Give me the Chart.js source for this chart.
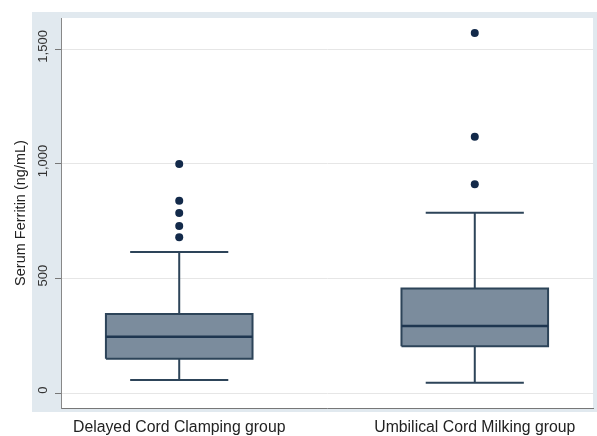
<!DOCTYPE html>
<html>
<head>
<meta charset="utf-8">
<script src="https://cdn.jsdelivr.net/npm/chart.js@4.4.1/dist/chart.umd.min.js"></script>
<style>
  html, body { margin: 0; padding: 0; background: #fff; }
  #wrap { width: 597px; height: 436px; }
</style>
</head>
<body>
<div id="wrap"><canvas id="chart" width="597" height="436"></canvas></div>
<script>
// ===== data =====
const groups = ["Delayed Cord Clamping group", "Umbilical Cord Milking group"];
const groupPos = [1, 2];
const whiskerLow = [57, 45];
const q1 = [150, 205];
const median = [246, 293];
const q3 = [345, 457];
const whiskerHigh = [616, 787];
const outliers = [
  [680, 729, 786, 840, 1000],
  [911, 1119, 1571]
];
const yTicks = [0, 500, 1000, 1500];

const BOX_HALF = 0.248;
const CAP_HALF = 0.166;
const LINE = "#2d4459";
const FILL = "#7b8c9d";
const DOT = "#132a4a";
const FONT = "'Liberation Sans', Arial, sans-serif";

// ===== datasets (lower order = drawn on top) =====
const datasets = [];
groupPos.forEach((x, i) => {
  // box fill
  datasets.push({
    type: "line", order: 10,
    data: [{x: x - BOX_HALF, y: q3[i]}, {x: x + BOX_HALF, y: q3[i]}],
    borderWidth: 0, borderColor: "rgba(0,0,0,0)", pointRadius: 0,
    backgroundColor: FILL,
    fill: {value: q1[i]}
  });
  // box outline
  datasets.push({
    type: "line", order: 5,
    data: [
      {x: x - BOX_HALF, y: q1[i]}, {x: x - BOX_HALF, y: q3[i]},
      {x: x + BOX_HALF, y: q3[i]}, {x: x + BOX_HALF, y: q1[i]},
      {x: x - BOX_HALF, y: q1[i]}
    ],
    borderColor: LINE, borderWidth: 2, pointRadius: 0, fill: false
  });
  // median
  datasets.push({
    type: "line", order: 4,
    data: [{x: x - BOX_HALF, y: median[i]}, {x: x + BOX_HALF, y: median[i]}],
    borderColor: "#1e3650", borderWidth: 2.5, pointRadius: 0, fill: false
  });
  // whiskers + caps
  datasets.push({
    type: "line", order: 6,
    data: [
      {x: x, y: q3[i]}, {x: x, y: whiskerHigh[i]}, {x: x, y: null},
      {x: x - CAP_HALF, y: whiskerHigh[i]}, {x: x + CAP_HALF, y: whiskerHigh[i]}, {x: x, y: null},
      {x: x, y: q1[i]}, {x: x, y: whiskerLow[i]}, {x: x, y: null},
      {x: x - CAP_HALF, y: whiskerLow[i]}, {x: x + CAP_HALF, y: whiskerLow[i]}
    ],
    borderColor: LINE, borderWidth: 2, pointRadius: 0, fill: false, spanGaps: false
  });
  // outliers
  datasets.push({
    type: "scatter", order: 1,
    data: outliers[i].map(v => ({x: x, y: v})),
    pointRadius: 4, pointHoverRadius: 4,
    backgroundColor: DOT, borderColor: DOT, borderWidth: 0
  });
});

// ===== background panel + rotated y labels =====
const stataPlugin = {
  id: "stata",
  beforeDraw(chart) {
    const {ctx, chartArea} = chart;
    ctx.save();
    ctx.fillStyle = "#e1e9ef";
    ctx.fillRect(32, 12, 597 - 32, 412 - 12);
    ctx.fillStyle = "#ffffff";
    ctx.fillRect(chartArea.left, chartArea.top, chartArea.right - chartArea.left, chartArea.bottom - chartArea.top);
    ctx.restore();
  },
  afterDraw(chart) {
    const {ctx} = chart;
    const y = chart.scales.y;
    ctx.save();
    ctx.fillStyle = "#333333";
    ctx.font = "13px " + FONT;
    ctx.textAlign = "center";
    ctx.textBaseline = "middle";
    yTicks.forEach(v => {
      const py = y.getPixelForValue(v) - 3;
      ctx.save();
      ctx.translate(43, py);
      ctx.rotate(-Math.PI / 2);
      ctx.fillText(v.toLocaleString("en-US"), 0, 0);
      ctx.restore();
    });
    ctx.restore();
  }
};

new Chart(document.getElementById("chart"), {
  type: "scatter",
  data: {datasets: datasets},
  plugins: [stataPlugin],
  options: {
    responsive: false,
    animation: false,
    events: [],
    layout: {padding: {top: 18, right: 4, left: 0, bottom: 0}},
    plugins: {legend: {display: false}, tooltip: {enabled: false}},
    scales: {
      x: {
        type: "linear",
        min: 0.6, max: 2.4,
        afterBuildTicks: s => { s.ticks = groupPos.map(v => ({value: v})); },
        afterFit: s => { s.height = 28; },
        grid: {display: true, drawOnChartArea: false, drawTicks: false, color: "rgba(0,0,0,0)"},
        border: {display: true, color: "#777777", width: 1},
        ticks: {
          padding: 10,
          color: "#222222",
          font: {family: FONT, size: 15.8},
          callback: (v) => groups[groupPos.indexOf(v)] || ""
        }
      },
      y: {
        type: "linear",
        min: -65, max: 1637,
        afterBuildTicks: s => { s.ticks = yTicks.map(v => ({value: v})); },
        afterFit: s => { s.width = 61; },
        grid: {color: "#e6e6e6", lineWidth: 1, drawTicks: true, tickLength: 6, tickColor: "#777777"},
        border: {display: true, color: "#888888", width: 1},
        ticks: {color: "rgba(0,0,0,0)", padding: 2, font: {size: 13}},
        title: {
          display: true,
          text: "Serum Ferritin (ng/mL)",
          color: "#222222",
          padding: {top: 12, bottom: 0},
          font: {family: FONT, size: 14.5}
        }
      }
    }
  }
});
</script>
</body>
</html>
